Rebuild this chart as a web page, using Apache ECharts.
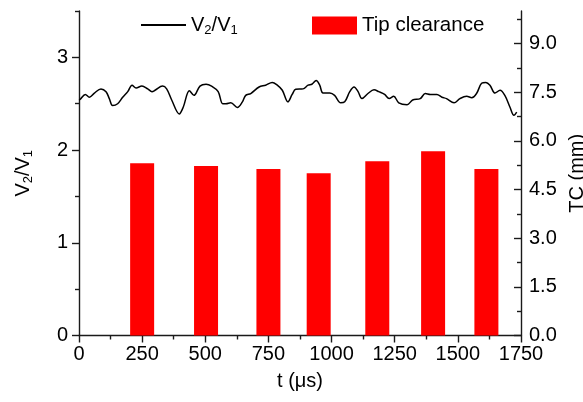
<!DOCTYPE html>
<html>
<head>
<meta charset="utf-8">
<script src="https://cdn.jsdelivr.net/npm/echarts@6/dist/echarts.min.js"></script>
<style>html,body{margin:0;padding:0;background:#fff}#c{width:583px;height:402px}</style>
</head>
<body>
<div id="c"></div>
<script>
// ---- data ----
const lineT = [0,4,25,41,61,87,107,120,133,153,173,193,210,226,249,272,289,301,331,347,367,397,413,437,455,479,503,525,551,569,582,601,627,647,660,680,713,739,765,785,805,827,844,858,887,907,922,939,953,966,993,1012,1036,1052,1072,1089,1105,1120,1144,1168,1187,1210,1228,1246,1266,1299,1321,1351,1371,1391,1417,1437,1455,1485,1508,1535,1555,1574,1594,1611,1627,1647,1667,1686,1706,1722,1733];
const lineV = [2.54,2.545,2.60,2.57,2.615,2.66,2.63,2.555,2.48,2.50,2.57,2.63,2.70,2.67,2.69,2.66,2.63,2.645,2.69,2.66,2.54,2.39,2.465,2.64,2.59,2.69,2.71,2.69,2.63,2.50,2.50,2.51,2.46,2.52,2.59,2.61,2.68,2.70,2.73,2.70,2.645,2.52,2.60,2.655,2.66,2.70,2.71,2.75,2.70,2.615,2.615,2.59,2.51,2.52,2.63,2.68,2.63,2.555,2.61,2.65,2.63,2.60,2.555,2.58,2.51,2.49,2.54,2.555,2.61,2.60,2.60,2.57,2.555,2.51,2.555,2.58,2.565,2.61,2.72,2.73,2.70,2.615,2.645,2.59,2.465,2.375,2.41];
const barT = [250,503,750,949,1181,1402,1613];
const barTC = [5.31,5.22,5.13,5.00,5.37,5.68,5.13];
const leftMajor = [0,1,2,3];
const leftMinor = [0.5,1.5,2.5,3.5];
const rightMajor = [0,1.5,3.0,4.5,6.0,7.5,9.0];
const rightMinor = [0.75,2.25,3.75,5.25,6.75,8.25,9.75];

const FF = "'Liberation Sans', Arial, sans-serif";
const FS = 20;
const AX = {color:'#1a1a1a', width:1.4};
const rich = {
  a:{fontSize:FS, fontFamily:FF, color:'#000', lineHeight:24, verticalAlign:'middle'},
  s:{fontSize:13, fontFamily:FF, color:'#000', lineHeight:12, verticalAlign:'bottom'}
};
const vName = '{a|V}{s|2}{a|/V}{s|1}';

const chart = echarts.init(document.getElementById('c'), null, {renderer:'canvas'});
chart.setOption({
  animation:false,
  backgroundColor:'#fff',
  textStyle:{fontFamily:FF},
  grid:{left:79, right:62, top:11, bottom:66.5, containLabel:false, outerBoundsMode:'none'},
  legend:[
    {left:135, top:10, itemWidth:45, itemHeight:18, data:['V2/V1'],
     itemStyle:{opacity:0},
     formatter:()=>vName, textStyle:{fontSize:FS, fontFamily:FF, color:'#000', rich:rich}},
    {left:307, top:10, itemWidth:45, itemHeight:18, icon:'rect', data:['Tip clearance'],
     textStyle:{fontSize:20.5, fontFamily:FF, color:'#000'}}
  ],
  xAxis:{type:'value', min:0, max:1750, interval:250,
    name:'t (\u03bcs)', nameLocation:'middle', nameGap:36,
    nameTextStyle:{fontSize:FS, fontFamily:FF, color:'#000'},
    axisLine:{show:true, lineStyle:AX},
    axisTick:{show:true, length:7, lineStyle:AX},
    minorTick:{show:true, splitNumber:2, length:4, lineStyle:AX},
    axisLabel:{fontSize:FS, fontFamily:FF, color:'#000', margin:9, formatter:v=>String(v)},
    splitLine:{show:false}},
  yAxis:[
    {type:'value', position:'left', min:0, max:3.5,
     name:vName, nameLocation:'middle', nameGap:44, nameRotate:90,
     nameTextStyle:{rich:rich},
     axisLine:{show:true, lineStyle:AX},
     axisTick:{show:true, length:7, customValues:leftMajor, lineStyle:AX},
     axisLabel:{fontSize:FS, fontFamily:FF, color:'#000', margin:11, customValues:leftMajor},
     splitLine:{show:false}},
    {type:'value', position:'right', min:0, max:10,
     name:'TC (mm)', nameLocation:'middle', nameGap:42, nameRotate:90,
     nameTextStyle:{fontSize:FS, fontFamily:FF, color:'#000'},
     axisLine:{show:true, lineStyle:AX},
     axisTick:{show:true, inside:true, length:7, customValues:rightMajor, lineStyle:AX},
     axisLabel:{fontSize:FS, fontFamily:FF, color:'#000', margin:8, customValues:rightMajor,
       formatter:v=>v.toFixed(1)},
     splitLine:{show:false}},
    {type:'value', position:'left', min:0, max:3.5,
     axisLine:{show:false},
     axisTick:{show:true, length:4, customValues:leftMinor, lineStyle:AX},
     axisLabel:{show:false}, splitLine:{show:false}},
    {type:'value', position:'right', min:0, max:10,
     axisLine:{show:false},
     axisTick:{show:true, inside:true, length:4, customValues:rightMinor, lineStyle:AX},
     axisLabel:{show:false}, splitLine:{show:false}}
  ],
  series:[
    {name:'V2/V1', type:'line', yAxisIndex:0, smooth:0.35, symbol:'none',
     lineStyle:{color:'#000', width:1.5}, itemStyle:{color:'#000'},
     data:lineT.map((t,i)=>[t,lineV[i]])},
    {name:'Tip clearance', type:'bar', yAxisIndex:1, barWidth:24,
     itemStyle:{color:'#ff0000'},
     data:barT.map((t,i)=>[t,barTC[i]])}
  ]
});
</script>
</body>
</html>
